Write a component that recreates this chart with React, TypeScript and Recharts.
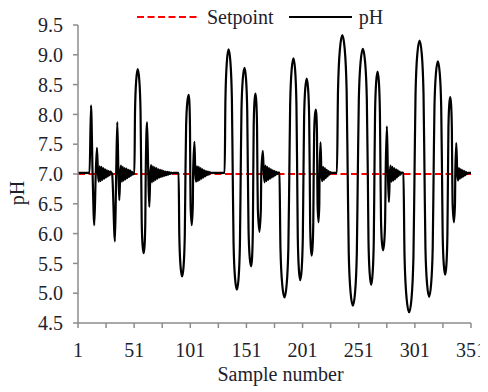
import React from 'react';
import { LineChart, Line, XAxis, YAxis, Legend } from 'recharts';

// ---- Tick labels ----
const xTicks = [1, 26, 51, 76, 101, 126, 151, 176, 201, 226, 251, 276, 301, 326, 351];
const xLabeledTicks = [1, 51, 101, 151, 201, 251, 301, 351];
const yTicks = [4.5, 5.0, 5.5, 6.0, 6.5, 7.0, 7.5, 8.0, 8.5, 9.0, 9.5];

// ---- Setpoint series ----
const setpointSamples = [1, 351];
const setpointValues = [7.0, 7.0];

// ---- pH series, [sample number, pH] ----
const phStart: [number, number][] = [
  [1, 7.02], [11.3, 7.02],
];
const phEvent1: [number, number][] = [
  [12.6, 8.15], [14.0, 7.0], [15.5, 6.14], [16.8, 7.0], [17.9, 7.44], [18.8, 7.0],
  [19.5, 6.87], [20.3, 7.13], [21.1, 6.88], [21.9, 7.12], [22.7, 6.9], [23.5, 7.1],
  [24.3, 6.92], [25.1, 7.08], [25.9, 6.94], [26.7, 7.06], [27.5, 6.96], [28.3, 7.05],
  [29.1, 6.98], [29.9, 7.04], [30.7, 7.02],
];
const phEvent2: [number, number][] = [
  [31.4, 7.0], [33.9, 5.87], [35.0, 7.0], [36.0, 7.87], [37.0, 7.0], [37.8, 6.56], [38.6, 7.0],
  [39.3, 7.14], [40.1, 6.87], [40.9, 7.12], [41.7, 6.89], [42.5, 7.1], [43.3, 6.91],
  [44.1, 7.09], [44.9, 6.93], [45.7, 7.07], [46.5, 6.95], [47.3, 7.06], [48.1, 6.97],
  [48.9, 7.04], [49.7, 6.99], [50.6, 7.02],
];
const phEvent3: [number, number][] = [
  [51.2, 7.0], [51.8, 8.06], [52.88, 8.58], [54.2, 8.76], [55.56, 8.58], [56.68, 8.06],
  [57.3, 7.0], [57.74, 6.2], [58.53, 5.8], [59.5, 5.67], [60.29, 5.8], [60.94, 6.2],
  [61.3, 7.0], [62.5, 7.87], [63.6, 7.0], [64.5, 6.45], [65.4, 7.0],
  [66.1, 7.15], [66.9, 6.86], [67.7, 7.13], [68.5, 6.88], [69.3, 7.11], [70.1, 6.9],
  [70.9, 7.1], [71.7, 6.92], [72.5, 7.08], [73.3, 6.94], [74.1, 7.07], [74.9, 6.95],
  [75.7, 7.06], [76.5, 6.96], [77.3, 7.05], [78.1, 6.97], [78.9, 7.04], [79.7, 6.98],
  [80.5, 7.035], [81.3, 6.99], [82.1, 7.03], [83.0, 7.0], [84.0, 7.025], [85.0, 7.01],
  [86.0, 7.02], [90.6, 7.02],
];
const phEvent4: [number, number][] = [
  [91.22, 5.97], [92.34, 5.45], [93.7, 5.28], [95.02, 5.45], [96.1, 5.97], [96.7, 7.0],
  [97.28, 7.8], [98.32, 8.2], [99.6, 8.33], [100.22, 8.2], [100.72, 7.8], [101.0, 7.0],
  [101.26, 6.48], [102.3, 6.14], [103.26, 6.48], [103.5, 7.0],
  [104.7, 7.54], [105.5, 7.0],
  [106.2, 6.87], [107.0, 7.13], [107.8, 6.88], [108.6, 7.12], [109.4, 6.9], [110.2, 7.1],
  [111.0, 6.92], [111.8, 7.08], [112.6, 6.94], [113.4, 7.06], [114.2, 6.96], [115.0, 7.05],
  [115.8, 6.98], [116.6, 7.04], [117.4, 6.99], [118.2, 7.03], [119.0, 7.02], [131.6, 7.02],
];
const phEvent5: [number, number][] = [
  [132.3, 8.25], [133.56, 8.88], [135.1, 9.09], [136.73, 8.88], [138.06, 8.25], [138.8, 7.0],
  [139.54, 5.84], [140.87, 5.25], [142.5, 5.06], [144.0, 5.25], [145.22, 5.84], [145.9, 7.0],
  [146.58, 8.07], [147.8, 8.6], [149.3, 8.78], [150.62, 8.6], [151.7, 8.07], [152.3, 7.0],
  [152.88, 6.07], [153.92, 5.6], [155.2, 5.45], [156.04, 5.6], [156.72, 6.07], [157.1, 7.0],
  [157.48, 7.81], [158.16, 8.21], [159.0, 8.35], [159.79, 8.21], [160.44, 7.81], [160.8, 7.0],
  [161.16, 6.42], [162.6, 6.03], [163.88, 6.42], [164.2, 7.0],
  [165.6, 7.39], [166.5, 7.0],
  [167.2, 6.86], [168.0, 7.14], [168.8, 6.88], [169.6, 7.12], [170.4, 6.9], [171.2, 7.1],
  [172.0, 6.92], [172.8, 7.08], [173.6, 6.94], [174.4, 7.06], [175.2, 6.96], [176.0, 7.05],
  [176.8, 6.98], [177.6, 7.035], [178.4, 7.0], [179.2, 7.025], [180.4, 7.02],
];
const phEvent6: [number, number][] = [
  [181.3, 5.76], [182.92, 5.14], [184.9, 4.93], [186.79, 5.14], [188.34, 5.76], [189.2, 7.0],
  [189.94, 8.16], [191.27, 8.75], [192.9, 8.94], [194.35, 8.75], [195.54, 8.16], [196.2, 7.0],
  [196.74, 5.93], [197.71, 5.4], [198.9, 5.22], [200.18, 5.4], [201.22, 5.93], [201.8, 7.0],
  [202.38, 7.96], [203.42, 8.44], [204.7, 8.6], [205.89, 8.44], [206.86, 7.96], [207.4, 7.0],
  [207.74, 6.18], [208.35, 5.77], [209.1, 5.63], [209.89, 5.77], [210.54, 6.18], [210.9, 7.0],
  [211.28, 7.65], [211.96, 7.97], [212.8, 8.08], [213.37, 7.97], [213.84, 7.65], [214.1, 7.0],
  [214.32, 6.51], [215.2, 6.19], [215.92, 6.51], [216.1, 7.0],
  [217.0, 7.53], [217.8, 7.0],
  [218.5, 6.88], [219.3, 7.12], [220.1, 6.9], [220.9, 7.1], [221.7, 6.93], [222.5, 7.07],
  [223.3, 6.96], [224.1, 7.05], [224.9, 6.99], [225.7, 7.03], [226.5, 7.02], [231.6, 7.02],
];
const phEvent7: [number, number][] = [
  [232.56, 8.4], [234.29, 9.1], [236.4, 9.33], [238.51, 9.1], [240.24, 8.4], [241.2, 7.0],
  [242.12, 5.67], [243.78, 5.01], [245.8, 4.79], [247.74, 5.01], [249.32, 5.67], [250.2, 7.0],
  [251.1, 8.26], [252.72, 8.89], [254.7, 9.1], [256.64, 8.89], [258.22, 8.26], [259.1, 7.0],
  [259.7, 5.88], [260.78, 5.33], [262.1, 5.14], [263.38, 5.33], [264.42, 5.88], [265.0, 7.0],
  [265.56, 8.03], [266.57, 8.55], [267.8, 8.72], [268.94, 8.55], [269.88, 8.03], [270.4, 7.0],
  [270.86, 6.23], [271.69, 5.85], [272.7, 5.72], [273.71, 5.85], [274.54, 6.23], [275.0, 7.0],
  [276.1, 7.8], [277.0, 7.0], [277.9, 6.53], [278.7, 7.0],
  [279.4, 7.14], [280.2, 6.87], [281.0, 7.12], [281.8, 6.89], [282.6, 7.1], [283.4, 6.91],
  [284.2, 7.08], [285.0, 6.94], [285.8, 7.06], [286.6, 6.97], [287.4, 7.04], [288.2, 6.99],
  [289.0, 7.025], [290.8, 7.02],
];
const phEvent8: [number, number][] = [
  [291.82, 5.61], [293.66, 4.91], [295.9, 4.68], [298.01, 4.91], [299.74, 5.61], [300.7, 7.0],
  [301.6, 8.34], [303.22, 9.02], [305.2, 9.24], [307.14, 9.02], [308.72, 8.34], [309.6, 7.0],
  [310.42, 5.76], [311.9, 5.15], [313.7, 4.94], [315.46, 5.15], [316.9, 5.76], [317.7, 7.0],
  [318.46, 8.13], [319.83, 8.7], [321.5, 8.89], [323.13, 8.7], [324.46, 8.13], [325.2, 7.0],
  [325.76, 5.99], [326.77, 5.48], [328.0, 5.31], [329.1, 5.48], [330.0, 5.99], [330.5, 7.0],
  [330.9, 7.77], [331.62, 8.16], [332.5, 8.29], [333.29, 8.16], [333.94, 7.77], [334.3, 7.0],
  [334.6, 6.51], [335.8, 6.19], [336.76, 6.51], [337.0, 7.0],
  [337.9, 7.52], [338.8, 7.0],
  [339.5, 6.89], [340.3, 7.1], [341.1, 6.92], [341.9, 7.08], [342.7, 6.94], [343.5, 7.06],
  [344.3, 6.96], [345.1, 7.05], [345.9, 6.98], [346.7, 7.03], [347.5, 7.0], [348.5, 7.02],
  [351, 7.02],
];

const phTrace = [
  ...phStart, ...phEvent1, ...phEvent2, ...phEvent3, ...phEvent4,
  ...phEvent5, ...phEvent6, ...phEvent7, ...phEvent8,
];

const phData = phTrace.map(([sample, v]) => ({ sample, pH: v }));
const setpointData = setpointSamples.map((sample, i) => ({ sample, setpoint: setpointValues[i] }));

const FONT = '"Liberation Serif", "Times New Roman", Times, serif';
const TEXT = '#1e1e2c';
const AXIS = '#8c8c8c';
const FS = 20;
const textStyle: React.CSSProperties = { fontFamily: FONT, fontSize: FS, fill: TEXT };

const XTick = (props: any) => {
  const { x, y, payload } = props;
  if (!xLabeledTicks.includes(payload.value)) return null;
  return (
    <text x={x} y={y} dy="0.71em" textAnchor="middle" style={textStyle}>
      {payload.value}
    </text>
  );
};

const YTick = (props: any) => {
  const { x, y, payload } = props;
  return (
    <text x={x} y={y} dy="0.355em" textAnchor="end" style={textStyle}>
      {Number(payload.value).toFixed(1)}
    </text>
  );
};

const renderLegend = (props: any) => {
  const payload = props.payload || [];
  return (
    <div style={{ display: 'flex', alignItems: 'center', fontFamily: FONT, fontSize: FS, lineHeight: '20px', color: TEXT, whiteSpace: 'nowrap' }}>
      {payload.map((entry: any, i: number) => {
        const dash = entry.payload && entry.payload.strokeDasharray;
        return (
          <div key={i} style={{ display: 'flex', alignItems: 'center', marginLeft: i === 0 ? 0 : 15 }}>
            <svg width={63} height={4} style={{ display: 'block' }}>
              <line x1={0} y1={2} x2={63} y2={2} stroke={entry.color} strokeWidth={2} strokeDasharray={dash} />
            </svg>
            <span style={{ marginLeft: 7 }}>{entry.value}</span>
          </div>
        );
      })}
    </div>
  );
};

const renderYLabel = (props: any) => {
  const vb = props.viewBox || { x: 18, y: 25, width: 60, height: 298 };
  const bx = vb.x + 6;
  const cy = vb.y + vb.height / 2 + 19;
  return (
    <text x={bx} y={cy} transform={`rotate(-90 ${bx} ${cy})`} textAnchor="middle" style={textStyle}>
      pH
    </text>
  );
};

const renderXLabel = (props: any) => {
  const vb = props.viewBox || { x: 78, y: 323, width: 393, height: 60 };
  const cx = vb.x + vb.width / 2 + 6;
  const by = vb.y + 58;
  return (
    <text x={cx} y={by} textAnchor="middle" style={textStyle}>
      Sample number
    </text>
  );
};

export default function App() {
  return (
    <div style={{ marginLeft: -8, marginTop: -8, width: 488, height: 392, fontFamily: FONT }}>
      <LineChart width={488} height={392} margin={{ top: 25, right: 17, left: 18, bottom: 9 }} style={{ fontFamily: FONT }}>
        <XAxis
          type="number"
          dataKey="sample"
          domain={[1, 351]}
          ticks={xTicks}
          allowDataOverflow
          allowDuplicatedCategory={false}
          interval={0}
          height={60}
          tickSize={5}
          tickMargin={15}
          axisLine={{ stroke: AXIS, strokeWidth: 1.5 }}
          tickLine={{ stroke: AXIS, strokeWidth: 1.5 }}
          tick={<XTick />}
          label={{ content: renderXLabel }}
        />
        <YAxis
          type="number"
          domain={[4.5, 9.5]}
          ticks={yTicks}
          allowDataOverflow
          interval={0}
          width={60}
          tickSize={5}
          tickMargin={10}
          axisLine={{ stroke: AXIS, strokeWidth: 1.5 }}
          tickLine={{ stroke: AXIS, strokeWidth: 1.5 }}
          tick={<YTick />}
          label={{ content: renderYLabel }}
        />
        <Legend
          layout="horizontal"
          align="center"
          verticalAlign="middle"
          content={renderLegend}
          wrapperStyle={{ top: 7, left: 137, width: 320, height: 20 }}
        />
        <Line
          data={setpointData}
          dataKey="setpoint"
          name="Setpoint"
          type="linear"
          stroke="#ff0000"
          strokeWidth={2}
          strokeDasharray="7 3.5"
          dot={false}
          activeDot={false}
          isAnimationActive={false}
        />
        <Line
          data={phData}
          dataKey="pH"
          name="pH"
          type="monotone"
          stroke="#000000"
          strokeWidth={2.2}
          dot={false}
          activeDot={false}
          isAnimationActive={false}
        />
      </LineChart>
    </div>
  );
}
